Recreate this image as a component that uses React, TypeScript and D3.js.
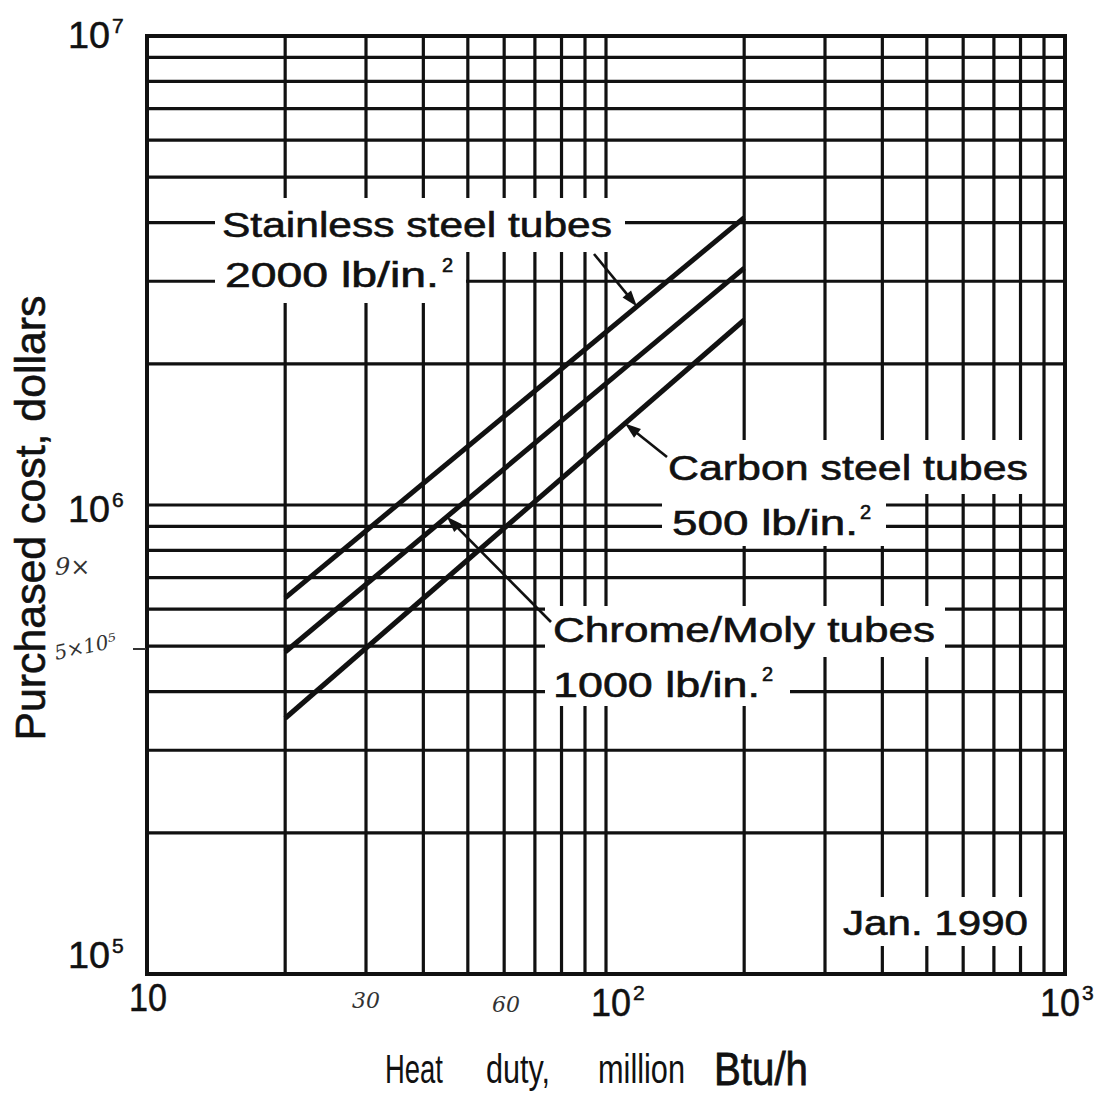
import React from 'react';
import * as d3 from 'd3';

// ---- data ----
const heatDuty = [20, 200]; // million Btu/h, start and end of each line
const stainlessCost = [634000, 4100000];
const chromeMolyCost = [486000, 3200000];
const carbonCost = [351000, 2480000];
const xTickExponents = [1, 2, 3];
const yTickExponents = [5, 6, 7];
// heat duty at which each label's arrow touches its line
const stainlessArrowAt = 116.8;
const chromeArrowAt = 45;
const carbonArrowAt = 110;

const W = 1106;
const H = 1097;
const FONT = "'Liberation Sans', Arial, Helvetica, sans-serif";
const INK = '#111';

const x = d3.scaleLog().domain([10, 1000]).range([147, 1065]);
const y = d3.scaleLog().domain([1e5, 1e7]).range([974, 36]);

type Series = { name: string; costs: number[]; arrowAt: number; tail: [number, number] };
const series: Series[] = [
  { name: 'stainless', costs: stainlessCost, arrowAt: stainlessArrowAt, tail: [594, 254] },
  { name: 'chrome', costs: chromeMolyCost, arrowAt: chromeArrowAt, tail: [551, 622] },
  { name: 'carbon', costs: carbonCost, arrowAt: carbonArrowAt, tail: [667, 457] },
];

function costAt(costs: number[], xv: number) {
  const t = (Math.log(xv) - Math.log(heatDuty[0])) / (Math.log(heatDuty[1]) - Math.log(heatDuty[0]));
  return Math.exp(Math.log(costs[0]) + t * (Math.log(costs[1]) - Math.log(costs[0])));
}

const line = d3
  .line<[number, number]>()
  .x((d) => x(d[0]))
  .y((d) => y(d[1]));

// label layout (text boxes that interrupt the grid)
type Label = { text: string; x: number; base: number; len: number; sup?: [number, number]; box: [number, number, number, number] };
const labels: Label[] = [
  { text: 'Stainless steel tubes', x: 222, base: 237, len: 390, box: [215, 198, 625, 252] },
  { text: '2000 lb/in.', x: 225, base: 287, len: 214, sup: [442, 272], box: [215, 252, 466, 303] },
  { text: 'Carbon steel tubes', x: 668, base: 480, len: 360, box: [662, 440, 1032, 494] },
  { text: '500 lb/in.', x: 672, base: 535, len: 186, sup: [860, 519], box: [662, 494, 886, 546] },
  { text: 'Chrome/Moly tubes', x: 553, base: 642, len: 382, box: [545, 606, 945, 657] },
  { text: '1000 lb/in.', x: 553, base: 697, len: 207, sup: [762, 681], box: [545, 657, 790, 706] },
  { text: 'Jan. 1990', x: 843, base: 935, len: 185, box: [838, 897, 1034, 946] },
];

function Arrow({ tail, tip }: { tail: [number, number]; tip: [number, number] }) {
  const dx = tip[0] - tail[0];
  const dy = tip[1] - tail[1];
  const L = Math.hypot(dx, dy);
  const ux = dx / L;
  const uy = dy / L;
  const px = -uy;
  const py = ux;
  const hl = 16;
  const hw = 5.5;
  const bx = tip[0] - ux * hl;
  const by = tip[1] - uy * hl;
  return (
    <g>
      <line x1={tail[0]} y1={tail[1]} x2={bx + ux * 4} y2={by + uy * 4} stroke={INK} strokeWidth={2.6} />
      <polygon
        points={`${tip[0]},${tip[1]} ${bx + px * hw},${by + py * hw} ${bx - px * hw},${by - py * hw}`}
        fill={INK}
      />
    </g>
  );
}

export default function App() {
  const xs = x.ticks();
  const ys = y.ticks();
  const [x0, x1] = x.range();
  const [yb, yt] = y.range();

  const yTickPos: Record<number, number> = { 7: 48, 6: 522, 5: 968 };
  const xTickPos: Record<number, number> = { 1: 1011, 2: 1016, 3: 1016 };

  return (
    <svg width={W} height={H} style={{ position: 'absolute', left: 0, top: 0, background: '#fff' }}>
      <rect x={0} y={0} width={W} height={H} fill="#fff" />
      {/* grid */}
      <g stroke={INK} strokeWidth={3.2}>
        {xs.map((v) => (
          <line key={'gx' + v} x1={x(v)} x2={x(v)} y1={yt} y2={yb} />
        ))}
        {ys.map((v) => (
          <line key={'gy' + v} x1={x0} x2={x1} y1={y(v)} y2={y(v)} />
        ))}
      </g>
      <rect x={x0} y={yt} width={x1 - x0} height={yb - yt} fill="none" stroke={INK} strokeWidth={4} />

      {/* label boxes breaking the grid */}
      {labels.map((l, i) => (
        <rect key={'b' + i} x={l.box[0]} y={l.box[1]} width={l.box[2] - l.box[0]} height={l.box[3] - l.box[1]} fill="#fff" />
      ))}

      {/* cost lines */}
      {series.map((s) => (
        <path
          key={s.name}
          d={line(heatDuty.map((h, i) => [h, s.costs[i]] as [number, number])) || ''}
          fill="none"
          stroke={INK}
          strokeWidth={5}
        />
      ))}
      {series.map((s) => (
        <Arrow key={'a' + s.name} tail={s.tail} tip={[x(s.arrowAt), y(costAt(s.costs, s.arrowAt))]} />
      ))}

      {/* labels */}
      <g fontFamily={FONT} fill={INK} stroke={INK} strokeWidth={0.6}>
        {labels.map((l, i) => (
          <g key={'t' + i}>
            <text x={l.x} y={l.base} fontSize={35} textLength={l.len} lengthAdjust="spacingAndGlyphs">
              {l.text}
            </text>
            {l.sup && (
              <text x={l.sup[0]} y={l.sup[1]} fontSize={20}>
                2
              </text>
            )}
          </g>
        ))}
      </g>

      {/* tick labels */}
      <g fontFamily={FONT} fill={INK} stroke={INK} strokeWidth={0.5}>
        {yTickExponents.map((e) => (
          <g key={'yt' + e}>
            <text x={110} y={yTickPos[e]} fontSize={36} textAnchor="end" textLength={42} lengthAdjust="spacingAndGlyphs">
              10
            </text>
            <text x={112} y={yTickPos[e] - 15} fontSize={21}>
              {e}
            </text>
          </g>
        ))}
        {xTickExponents.map((e) => {
          const cx = x(Math.pow(10, e));
          if (e === 1) {
            return (
              <text key={'xt' + e} x={cx + 1} y={xTickPos[e]} fontSize={38} textAnchor="middle" textLength={38} lengthAdjust="spacingAndGlyphs">
                10
              </text>
            );
          }
          const left = e === 3 ? cx - 25 : cx - 15;
          return (
            <g key={'xt' + e}>
              <text x={left} y={xTickPos[e]} fontSize={38} textLength={40} lengthAdjust="spacingAndGlyphs">
                10
              </text>
              <text x={left + 42} y={xTickPos[e] - 16} fontSize={21}>
                {e}
              </text>
            </g>
          );
        })}
      </g>

      {/* axis titles */}
      <g fontFamily={FONT} fill={INK}>
        <text
          transform="translate(45,518) rotate(-90)"
          textAnchor="middle"
          fontSize={43}
          textLength={445}
          lengthAdjust="spacingAndGlyphs"
          stroke={INK}
          strokeWidth={0.6}
        >
          Purchased cost, dollars
        </text>
        <text x={385} y={1083} fontSize={40} textLength={58} lengthAdjust="spacingAndGlyphs">Heat</text>
        <text x={486} y={1083} fontSize={40} textLength={64} lengthAdjust="spacingAndGlyphs">duty,</text>
        <text x={598} y={1083} fontSize={40} textLength={87} lengthAdjust="spacingAndGlyphs">million</text>
        <text x={714} y={1085} fontSize={46} textLength={94} lengthAdjust="spacingAndGlyphs" stroke={INK} strokeWidth={0.8}>Btu/h</text>
      </g>

      {/* handwritten pencil notes on the scan */}
      <g fontFamily="'DejaVu Serif', serif" fontStyle="italic" fill="#333">
        <text x={55} y={575} fontSize={24}>9×</text>
        <text x={56} y={660} fontSize={20} transform="rotate(-12,56,660)">5×10⁵</text>
        <line x1={133} x2={146} y1={649} y2={649} stroke="#333" strokeWidth={2} />
        <text x={352} y={1008} fontSize={22}>30</text>
        <text x={492} y={1012} fontSize={22}>60</text>
      </g>
    </svg>
  );
}
